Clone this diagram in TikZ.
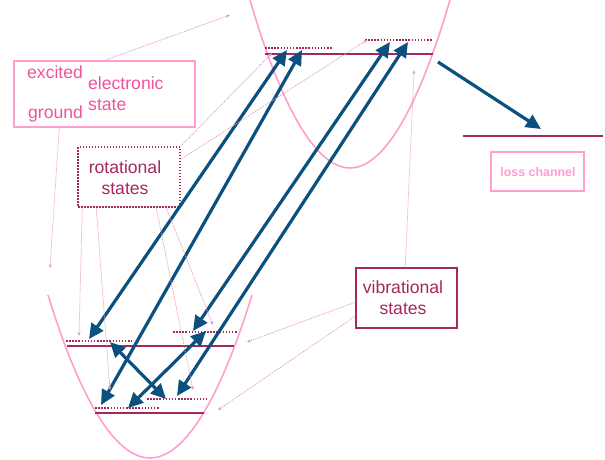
\documentclass[tikz,border=0pt]{standalone}
\usepackage{fontspec}
\setmainfont{Liberation Sans}
\usetikzlibrary{arrows.meta,calc}

\definecolor{pesPink}{HTML}{FF9ECF}
\definecolor{labPink}{HTML}{F2529C}
\definecolor{levMag}{HTML}{A3285E}
\definecolor{trBlue}{HTML}{0B507F}
\definecolor{ptrPink}{HTML}{DF94B8}

\begin{document}
\begin{tikzpicture}[x=1pt,y=-1pt,
  pes/.style={pesPink, line width=1.6pt},
  level/.style={levMag, line width=2pt},
  rotlevel/.style={levMag, line width=1.8pt, dash pattern=on 1.5pt off 1.6pt},
  trans/.style={trBlue, line width=3.2pt, {Triangle[length=15pt,width=14pt]}-{Triangle[length=15pt,width=14pt]}},
  decay/.style={trBlue, line width=3.2pt, -{Triangle[length=15pt,width=14pt]}},
  pointer/.style={ptrPink, line width=0.75pt, dash pattern=on 1pt off 1pt, -{Stealth[length=4pt,width=3pt]}},
  bigfont/.style={font=\fontsize{17.6}{21}\selectfont},
  pinklabel/.style={bigfont, text=labPink, inner sep=0pt},
  maglabel/.style={bigfont, text=levMag, inner sep=0pt, align=center},
  box/.style={inner sep=0pt, line width=1.5pt}
]
\useasboundingbox (0,0) rectangle (605,459);

% potential energy curves
\draw[pes] (250,0) parabola bend (350,168) (450,0);
\draw[pes] (48,295) parabola bend (150,458) (252,295);

% vibrational levels (solid) and rotational levels (dotted)
\coordinate (eL) at (265,54);  \coordinate (eR) at (433,54);
\coordinate (g1L) at (67,346); \coordinate (g1R) at (234,346);
\coordinate (g0L) at (95,413); \coordinate (g0R) at (204,413);
\coordinate (lossL) at (463,136); \coordinate (lossR) at (603,136);
\draw[level] (eL) -- (eR);
\draw[level] (g1L) -- (g1R);
\draw[level] (g0L) -- (g0R);
\draw[level] (lossL) -- (lossR);

\coordinate (erLa) at (265,48); \coordinate (erLb) at (332,48);
\coordinate (erRa) at (365,40); \coordinate (erRb) at (432,40);
\coordinate (g1rLa) at (66,341); \coordinate (g1rLb) at (132,341);
\coordinate (g1rRa) at (173,332); \coordinate (g1rRb) at (238,332);
\coordinate (g0rLa) at (95,408); \coordinate (g0rLb) at (159,408);
\coordinate (g0rRa) at (147,399); \coordinate (g0rRb) at (208,399);
\draw[rotlevel] (erLa) -- (erLb);
\draw[rotlevel] (erRa) -- (erRb);
\draw[rotlevel] (g1rLa) -- (g1rLb);
\draw[rotlevel] (g1rRa) -- (g1rRb);
\draw[rotlevel] (g0rLa) -- (g0rLb);
\draw[rotlevel] (g0rRa) -- (g0rRb);

% label boxes
\node[box, draw=pesPink, minimum width=181pt, minimum height=66pt] (elecbox) at (104.5,94) {};
\node[pinklabel, anchor=base west] (excited) at (27,78) {excited};
\node[pinklabel, anchor=base west] (ground) at (28,118) {ground};
\node[pinklabel, anchor=base west] (electronic) at (88,89) {electronic};
\node[pinklabel, anchor=base west] (estate) at (88,110) {state};

\node[box, draw=levMag, dash pattern=on 1.5pt off 1.5pt, minimum width=102pt, minimum height=60pt] (rotbox) at (129,177) {};
\node[maglabel, anchor=base] (rottext) at (125,194) {rotational\\states};

\node[box, draw=levMag, minimum width=101pt, minimum height=60pt] (vibbox) at (406.5,298) {};
\node[maglabel, anchor=base] (vibtext) at (403,314) {vibrational\\states};

\node[box, draw=pesPink, minimum width=93pt, minimum height=39pt] (lossbox) at (537.5,171.5) {};
\node[inner sep=0pt, anchor=base, text=pesPink, font=\bfseries\fontsize{12.4}{14}\selectfont] (losstext) at (538,176.5) {loss channel};

% transitions between ground and excited state
\coordinate (a1) at (89,339);  \coordinate (a2) at (287,50);
\coordinate (b1) at (101,405); \coordinate (b2) at (302,50);
\coordinate (c1) at (193,331); \coordinate (c2) at (390,42);
\coordinate (d1) at (177,396); \coordinate (d2) at (408,42);
\coordinate (f1) at (110,342); \coordinate (f2) at (166,399);
\coordinate (h1) at (206,331); \coordinate (h2) at (128,408);
\coordinate (k1) at (438,62);  \coordinate (k2) at (541,129);
\draw[trans] (a1) -- (a2);
\draw[trans] (b1) -- (b2);
\draw[trans] (c1) -- (c2);
\draw[trans] (d1) -- (d2);
\draw[trans] (f1) -- (f2);
\draw[trans] (h1) -- (h2);
\draw[decay] (k1) -- (k2);

% pointers from the labels
\coordinate (p1) at (230,15);
\coordinate (p2) at (50,268);
\coordinate (p3) at (272,53);
\coordinate (p4) at (367,40);
\coordinate (p5) at (79,336);
\coordinate (p6) at (110,390);
\coordinate (p7) at (193,390);
\coordinate (p8) at (213,325);
\coordinate (p9) at (414,70);
\coordinate (p10) at (247,342);
\coordinate (p11) at (218,410);
\draw[pointer] ($(elecbox.north)+(0.5,0)$) -- (p1);
\draw[pointer] ($(elecbox.south west)+(46,0)$) -- (p2);
\draw[pointer] (rotbox.north east) -- (p3);
\draw[pointer] ($(rotbox.north east)+(0,13)$) -- (p4);
\draw[pointer] ($(rotbox.south west)+(5,0)$) -- (p5);
\draw[pointer] ($(rotbox.south west)+(19,0)$) -- (p6);
\draw[pointer] ($(rotbox.south west)+(79,0)$) -- (p7);
\draw[pointer] ($(rotbox.south west)+(89,0)$) -- (p8);
\draw[pointer] ($(vibbox.north west)+(50,0)$) -- (p9);
\draw[pointer] ($(vibbox.north west)+(0,35)$) -- (p10);
\draw[pointer] ($(vibbox.north west)+(0,49)$) -- (p11);
\end{tikzpicture}
\end{document}
